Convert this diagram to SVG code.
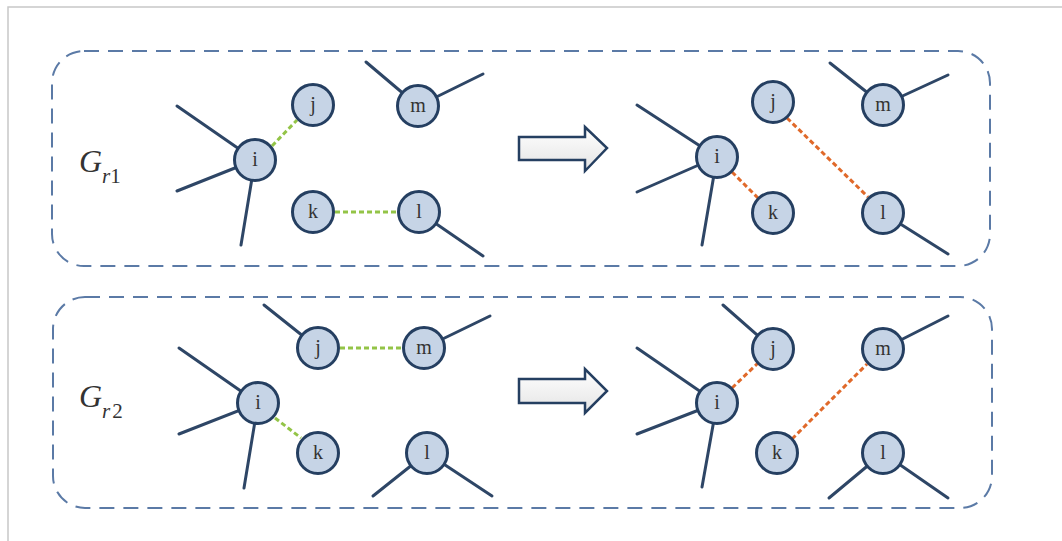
<svg xmlns="http://www.w3.org/2000/svg" width="1062" height="541" viewBox="0 0 1062 541">
  <style>
    .frame { fill: none; stroke: #c8c8c8; stroke-width: 1.5; }
    .panel { fill: none; stroke: #5b7aa6; stroke-width: 2; stroke-dasharray: 15 9; }
    .node circle { fill: #c6d4e6; stroke: #253f61; stroke-width: 3; }
    .node text { font-family: "Liberation Serif", "DejaVu Serif", serif; font-size: 20px; fill: #333; text-anchor: middle; }
    .edge { stroke: #2e4666; stroke-width: 3; stroke-linecap: round; fill: none; }
    .old { stroke: #93c447; stroke-width: 3; stroke-dasharray: 5 3; fill: none; }
    .new { stroke: #e0692a; stroke-width: 3; stroke-dasharray: 5 3; fill: none; }
    .arrow { fill: url(#arrowFill); stroke: #253f61; stroke-width: 2.5; stroke-linejoin: miter; }
    .glabel { font-family: "Liberation Serif", "DejaVu Serif", serif; font-style: italic; fill: #333; }
  </style>
  <defs>
    <linearGradient id="arrowFill" x1="0" y1="0" x2="0" y2="1">
      <stop offset="0" stop-color="#ffffff"/>
      <stop offset="1" stop-color="#e4e4e4"/>
    </linearGradient>
  </defs>

  <!-- page frame -->
  <polyline class="frame" points="8,541 8,7 1062,7"/>

  <!-- dashed panels -->
  <rect class="panel" x="52" y="51" width="938" height="215" rx="32" ry="32"/>
  <rect class="panel" x="53" y="297" width="939" height="211" rx="32" ry="32"/>

  <!-- panel labels -->
  <text class="glabel" x="79" y="172" font-size="32">G<tspan font-size="21" dy="11">r</tspan><tspan font-size="21" font-style="normal">1</tspan></text>
  <text class="glabel" x="79" y="407" font-size="32">G<tspan font-size="21" dy="11">r</tspan><tspan font-size="21" font-style="normal" dx="2">2</tspan></text>

  <!-- transformation arrows -->
  <path class="arrow" d="M519,137 H585 V127 L607,148 L585,171 V160 H519 Z"/>
  <path class="arrow" d="M519,379 H585 V369 L607,391 L585,413 V403 H519 Z"/>

  <g id="connectors">
    <!-- stub edges, upper panel, before -->
    <line class="edge" x1="255" y1="160" x2="177" y2="106"/>
    <line class="edge" x1="255" y1="160" x2="177" y2="191"/>
    <line class="edge" x1="255" y1="160" x2="241" y2="245"/>
    <line class="edge" x1="418" y1="106" x2="366" y2="62"/>
    <line class="edge" x1="418" y1="106" x2="483" y2="74"/>
    <line class="edge" x1="419" y1="212" x2="483" y2="256"/>
    <line class="old" x1="272" y1="146" x2="297" y2="120"/>
    <line class="old" x1="335" y1="212" x2="397" y2="212"/>

    <!-- stub edges, upper panel, after -->
    <line class="edge" x1="717" y1="157" x2="637" y2="105"/>
    <line class="edge" x1="717" y1="157" x2="637" y2="192"/>
    <line class="edge" x1="717" y1="157" x2="702" y2="245"/>
    <line class="edge" x1="883" y1="105" x2="830" y2="63"/>
    <line class="edge" x1="883" y1="105" x2="948" y2="75"/>
    <line class="edge" x1="883" y1="213" x2="948" y2="254"/>
    <line class="new" x1="732" y1="172" x2="758" y2="198"/>
    <line class="new" x1="787" y1="118" x2="868" y2="197"/>

    <!-- stub edges, lower panel, before -->
    <line class="edge" x1="258" y1="403" x2="179" y2="348"/>
    <line class="edge" x1="258" y1="403" x2="179" y2="434"/>
    <line class="edge" x1="258" y1="403" x2="244" y2="488"/>
    <line class="edge" x1="318" y1="348" x2="264" y2="305"/>
    <line class="edge" x1="424" y1="348" x2="490" y2="316"/>
    <line class="edge" x1="427" y1="453" x2="373" y2="496"/>
    <line class="edge" x1="427" y1="453" x2="492" y2="496"/>
    <line class="old" x1="340" y1="348" x2="402" y2="348"/>
    <line class="old" x1="275" y1="418" x2="301" y2="438"/>

    <!-- stub edges, lower panel, after -->
    <line class="edge" x1="717" y1="403" x2="637" y2="348"/>
    <line class="edge" x1="717" y1="403" x2="637" y2="434"/>
    <line class="edge" x1="717" y1="403" x2="702" y2="487"/>
    <line class="edge" x1="773" y1="349" x2="723" y2="305"/>
    <line class="edge" x1="883" y1="349" x2="948" y2="316"/>
    <line class="edge" x1="883" y1="453" x2="829" y2="498"/>
    <line class="edge" x1="883" y1="453" x2="948" y2="498"/>
    <line class="new" x1="732" y1="388" x2="758" y2="363"/>
    <line class="new" x1="792" y1="439" x2="867" y2="364"/>
  </g>

  <!-- upper panel, before -->
  <g id="r1-i" class="node"><circle cx="255" cy="160" r="20.5"/><text x="255" y="166">i</text></g>
  <g id="r1-j" class="node"><circle cx="313" cy="105" r="20.5"/><text x="313" y="111">j</text></g>
  <g id="r1-m" class="node"><circle cx="418" cy="106" r="20.5"/><text x="418" y="112">m</text></g>
  <g id="r1-k" class="node"><circle cx="313" cy="212" r="20.5"/><text x="313" y="218">k</text></g>
  <g id="r1-l" class="node"><circle cx="419" cy="212" r="20.5"/><text x="419" y="218">l</text></g>

  <!-- upper panel, after -->
  <g id="r1p-i" class="node"><circle cx="717" cy="157" r="20.5"/><text x="717" y="163">i</text></g>
  <g id="r1p-j" class="node"><circle cx="773" cy="102" r="20.5"/><text x="773" y="108">j</text></g>
  <g id="r1p-m" class="node"><circle cx="883" cy="105" r="20.5"/><text x="883" y="111">m</text></g>
  <g id="r1p-k" class="node"><circle cx="773" cy="213" r="20.5"/><text x="773" y="219">k</text></g>
  <g id="r1p-l" class="node"><circle cx="883" cy="213" r="20.5"/><text x="883" y="219">l</text></g>

  <!-- lower panel, before -->
  <g id="r2-i" class="node"><circle cx="258" cy="403" r="20.5"/><text x="258" y="409">i</text></g>
  <g id="r2-j" class="node"><circle cx="318" cy="348" r="20.5"/><text x="318" y="354">j</text></g>
  <g id="r2-m" class="node"><circle cx="424" cy="348" r="20.5"/><text x="424" y="354">m</text></g>
  <g id="r2-k" class="node"><circle cx="318" cy="453" r="20.5"/><text x="318" y="459">k</text></g>
  <g id="r2-l" class="node"><circle cx="427" cy="453" r="20.5"/><text x="427" y="459">l</text></g>

  <!-- lower panel, after -->
  <g id="r2p-i" class="node"><circle cx="717" cy="403" r="20.5"/><text x="717" y="409">i</text></g>
  <g id="r2p-j" class="node"><circle cx="773" cy="349" r="20.5"/><text x="773" y="355">j</text></g>
  <g id="r2p-m" class="node"><circle cx="883" cy="349" r="20.5"/><text x="883" y="355">m</text></g>
  <g id="r2p-k" class="node"><circle cx="777" cy="453" r="20.5"/><text x="777" y="459">k</text></g>
  <g id="r2p-l" class="node"><circle cx="883" cy="453" r="20.5"/><text x="883" y="459">l</text></g>
</svg>
